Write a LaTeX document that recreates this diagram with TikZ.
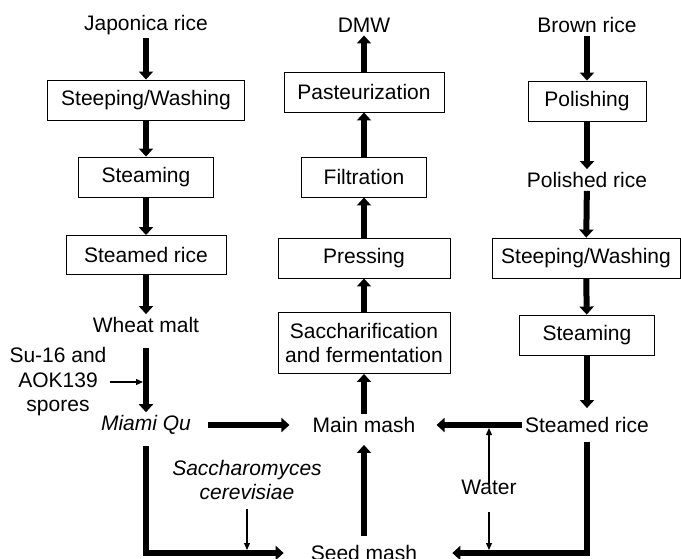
\documentclass[tikz,border=0pt]{standalone}
\usepackage{fontspec}
\setmainfont{Liberation Sans}
\usetikzlibrary{arrows.meta}

\begin{document}
\begin{tikzpicture}[x=1pt, y=-1pt]
\tikzset{every node/.style={font=\fontsize{21}{24.5}\selectfont, inner sep=3pt},
  italique/.style={font=\fontsize{21}{24.5}\selectfont\itshape},
  boite/.style={draw, line width=0.9pt, minimum height=40pt},
  fleche/.style={line width=6pt, -{Triangle[width=14pt, length=8pt]}},
  fil/.style={line width=1.2pt, -{Triangle[width=6pt, length=7pt]}}}
\useasboundingbox (0, 0) rectangle (681, 558);
\node (japo) at (146, 25) {Japonica rice};
\node[boite, minimum width=197pt] (trempe1) at (146, 100) {Steeping/Washing};
\node[boite, minimum width=135pt] (cuisson1) at (146, 177) {Steaming};
\node[boite, minimum width=160pt, minimum height=39pt] (riz1) at (146, 255) {Steamed rice};
\node (malt) at (146, 325) {Wheat malt};
\node[align=center] (spores) at (58, 382) {Su-16 and\\AOK139\\spores};
\node[italique] (qu) at (146, 425) {Miami Qu};
\node (dmw) at (364, 25) {DMW};
\node[boite, minimum width=160pt] (pasteur) at (364, 92) {Pasteurization};
\node[boite, minimum width=125pt] (filtre) at (364, 177) {Filtration};
\node[boite, minimum width=172pt] (pressage) at (364, 258) {Pressing};
\node[boite, minimum width=172pt, minimum height=61pt, align=center] (saccha) at (364, 343) {Saccharification\\and fermentation};
\node (principal) at (364, 425) {Main mash};
\node (levain) at (364, 553) {Seed mash};
\node[italique, align=center] (levure) at (247, 480) {Saccharomyces\\cerevisiae};
\node (brun) at (587, 25) {Brown rice};
\node[boite, minimum width=118pt] (polissage) at (587, 101) {Polishing};
\node (poli) at (587, 180) {Polished rice};
\node[boite, minimum width=188pt] (trempe2) at (586, 258) {Steeping/Washing};
\node[boite, minimum width=135pt] (cuisson2) at (587, 335) {Steaming};
\node (riz2) at (587, 425) {Steamed rice};
\node (eau) at (489, 487) {Water};
\coordinate (c1) at (143, 382);
\coordinate (c2) at (247, 550);
\coordinate (c3) at (489, 428);
\coordinate (c4) at (489, 550);
\draw[fleche] (japo) -- (trempe1);
\draw[fleche] (trempe1) -- (cuisson1);
\draw[fleche] (cuisson1) -- (riz1);
\draw[fleche] (riz1) -- (malt);
\draw[fleche, shorten <=12pt] (malt) -- (qu);
\draw[fleche, shorten <=14pt, shorten >=20pt] (qu) -- (principal);
\draw[fleche, shorten <=8pt, shorten >=24pt] (qu) |- (levain);
\draw[fleche, shorten <=6pt, shorten >=9pt] (levain) -- (principal);
\draw[fleche] (principal) -- (saccha);
\draw[fleche] (saccha) -- (pressage);
\draw[fleche] (pressage) -- (filtre);
\draw[fleche] (filtre) -- (pasteur);
\draw[fleche] (pasteur) -- (dmw);
\draw[fleche] (brun) -- (polissage);
\draw[fleche] (polissage) -- (poli);
\draw[fleche] (poli) -- (trempe2);
\draw[fleche] (trempe2) -- (cuisson2);
\draw[fleche, shorten >=6pt] (cuisson2) -- (riz2);
\draw[fleche, shorten >=18pt] (riz2) -- (principal);
\draw[fleche, shorten <=6pt, shorten >=32pt] (riz2) |- (levain);
\draw[fil] (spores) -- (c1);
\draw[fil, shorten <=6pt] (levure) -- (c2);
\draw[fil, shorten <=-8pt] (eau) -- (c3);
\draw[fil, shorten <=14pt] (eau) -- (c4);
\end{tikzpicture}
\end{document}
